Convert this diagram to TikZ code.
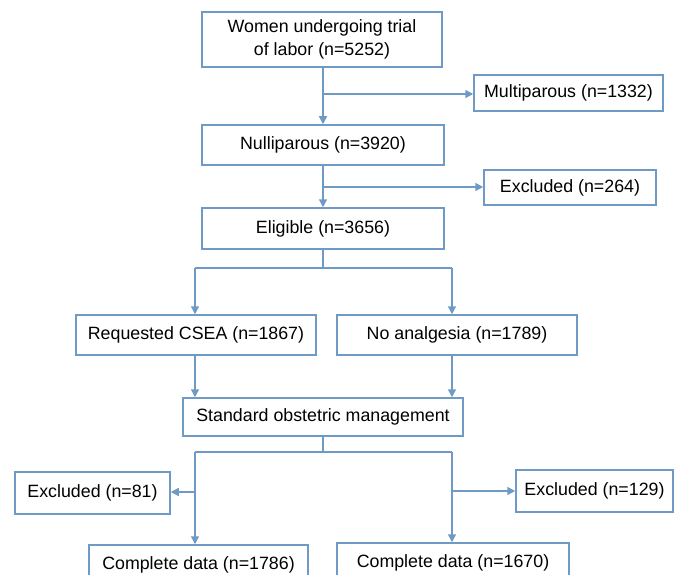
\documentclass[tikz,border=0pt]{standalone}
\usepackage{fontspec}
\setmainfont{Liberation Sans}
\usetikzlibrary{arrows.meta}
\definecolor{lineblue}{RGB}{112,154,198}
\begin{document}
\begin{tikzpicture}[x=1pt,y=-1pt,
  box/.style={draw=lineblue,line width=1.5pt,rectangle,inner sep=0pt,align=center,
    font=\fontsize{17.8pt}{23pt}\selectfont,text=black},
  conn/.style={draw=lineblue,line width=1.5pt},
  arr/.style={conn,-{Triangle[length=8pt,width=8pt]}}]
\useasboundingbox (0,0) rectangle (675,575);
\clip (0,0) rectangle (675,575);
\node[box,minimum width=240pt,minimum height=55pt] (top) at (322,39.5) {Women undergoing trial\\of labor (n=5252)};
\node[box,minimum width=189pt,minimum height=36pt] (multi) at (568.5,93) {Multiparous (n=1332)};
\node[box,minimum width=242pt,minimum height=40pt] (nulli) at (323,145) {Nulliparous (n=3920)};
\node[box,minimum width=172pt,minimum height=35pt] (excla) at (570,187.5) {Excluded (n=264)};
\node[box,minimum width=242pt,minimum height=41pt] (elig) at (323,228.5) {Eligible (n=3656)};
\node[box,minimum width=240pt,minimum height=40pt] (csea) at (196,335) {Requested CSEA (n=1867)};
\node[box,minimum width=240pt,minimum height=40pt] (noan) at (457,335) {No analgesia (n=1789)};
\node[box,minimum width=280pt,minimum height=38pt] (std) at (323,417) {Standard obstetric management};
\node[box,minimum width=155pt,minimum height=42pt] (exb) at (92.5,493) {Excluded (n=81)};
\node[box,minimum width=157pt,minimum height=42pt] (exc) at (594.5,491) {Excluded (n=129)};
\node[box,minimum width=219pt,minimum height=40pt] (cda) at (198.5,565) {Complete data (n=1786)};
\node[box,minimum width=232pt,minimum height=40pt] (cdb) at (453,563) {Complete data (n=1670)};
% coordinates
\coordinate (j1) at (323,94);
\coordinate (j2) at (323,187);
\coordinate (j3) at (323,268);
\coordinate (j3l) at (195,268);
\coordinate (j3r) at (452,268);
\coordinate (j4) at (323,452);
\coordinate (j4l) at (195,452);
\coordinate (j4r) at (452,452);
\coordinate (j5l) at (195,492);
\coordinate (j5r) at (452,491);
% connectors
\draw[arr] (top.south -| j1) -- (nulli.north -| j1);
\draw[arr] (j1) -- (multi.west |- j1);
\draw[arr] (nulli.south -| j2) -- (elig.north -| j2);
\draw[arr] (j2) -- (excla.west |- j2);
\draw[conn] (elig.south -| j3) -- (j3);
\draw[conn] (j3l) -- (j3r);
\draw[arr] (j3l) -- (csea.north -| j3l);
\draw[arr] (j3r) -- (noan.north -| j3r);
\draw[arr] (csea.south -| j3l) -- (std.north -| j3l);
\draw[arr] (noan.south -| j3r) -- (std.north -| j3r);
\draw[conn] (std.south -| j4) -- (j4);
\draw[conn] (j4l) -- (j4r);
\draw[arr] (j4l) -- (cda.north -| j4l);
\draw[arr] (j4r) -- (cdb.north -| j4r);
\draw[arr] (j5l) -- (exb.east |- j5l);
\draw[arr] (j5r) -- (exc.west |- j5r);
\end{tikzpicture}
\end{document}
